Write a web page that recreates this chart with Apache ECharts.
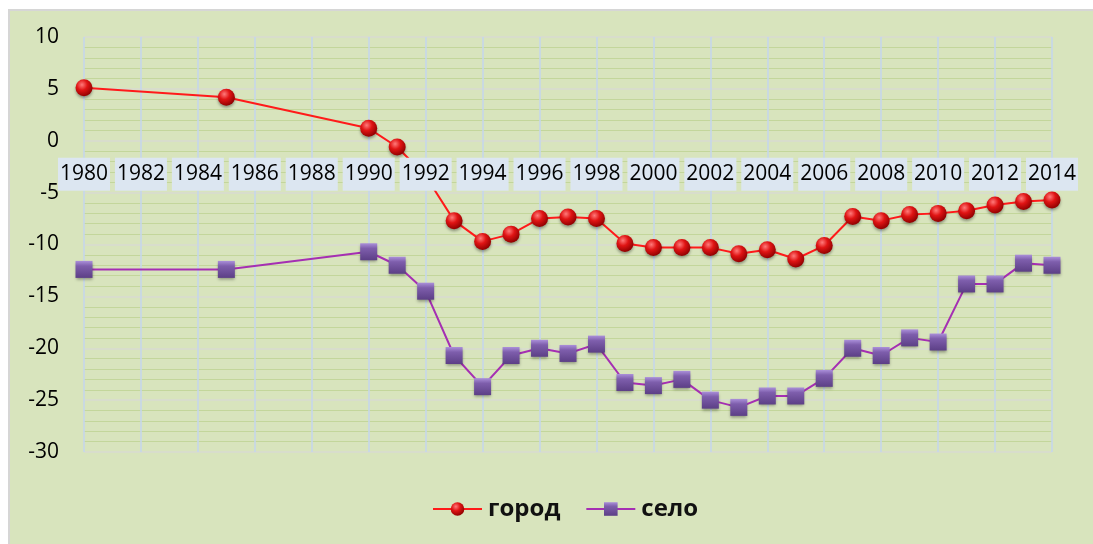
<!DOCTYPE html>
<html>
<head>
<meta charset="utf-8">
<script src="https://cdn.jsdelivr.net/npm/echarts@6/dist/echarts.min.js"></script>
<style>
  html, body { margin: 0; padding: 0; background: #ffffff; }
  #chart { width: 1093px; height: 544px; }
</style>
</head>
<body>
<div id="chart"></div>
<script>
// ---- data ----
const years = [1980, 1985, 1990, 1991, 1992, 1993, 1994, 1995, 1996, 1997, 1998, 1999, 2000,
               2001, 2002, 2003, 2004, 2005, 2006, 2007, 2008, 2009, 2010, 2011, 2012, 2013, 2014];
const gorod = [5.1, 4.2, 1.2, -0.6, -3.4, -7.7, -9.7, -9.0, -7.5, -7.35, -7.5, -9.9, -10.3,
               -10.3, -10.3, -10.9, -10.5, -11.4, -10.1, -7.3, -7.7, -7.1, -7.0, -6.75, -6.2, -5.85, -5.7];
const selo  = [-12.4, -12.4, -10.7, -12.0, -14.5, -20.7, -23.7, -20.7, -20.0, -20.5, -19.6, -23.3, -23.6,
               -23.0, -25.0, -25.7, -24.6, -24.6, -22.9, -20.0, -20.7, -19.0, -19.4, -13.8, -13.8, -11.8, -12.0];
const seriesNames = ['город', 'село'];
const xMin = 1980, xMax = 2014, xStep = 2;
const yMin = -30, yMax = 10, yStep = 5;

const FONT = '"Open Sans", "DejaVu Sans", sans-serif';

const chart = echarts.init(document.getElementById('chart'), null, { renderer: 'canvas' });

// grid geometry
const gridTop = 37, gridBottom = 92, chartH = 544;
const plotH = chartH - gridTop - gridBottom;
const zeroOffset = -((chartH - gridBottom) - (gridTop + plotH * (yMax - 0) / (yMax - yMin)));

const option = {
  backgroundColor: '#ffffff',
  animation: false,
  graphic: [{
    type: 'rect',
    z: -100,
    silent: true,
    shape: { x: 9, y: 10, width: 1100, height: 560 },
    style: { fill: '#d8e4bd', stroke: '#d6d6d6', lineWidth: 2 }
  }],
  grid: { left: 84, right: 41, top: gridTop, bottom: gridBottom, containLabel: false },
  legend: {
    left: 427,
    top: 492,
    itemWidth: 49,
    itemHeight: 17,
    itemGap: 25,
    textStyle: { fontFamily: FONT, fontSize: 24, fontWeight: 'bold', color: '#111111', padding: [0, 0, 0, 1] },
    data: seriesNames
  },
  xAxis: [{
    type: 'value',
    min: xMin, max: xMax, interval: xStep,
    position: 'bottom',
    axisLine: { show: false, onZero: false },
    axisTick: { show: false },
    axisLabel: { show: false },
    splitLine: { show: true, lineStyle: { color: '#c4d6ee', width: 1.5 } },
    z: 0
  }, {
    type: 'value',
    min: xMin, max: xMax, interval: xStep,
    position: 'bottom',
    offset: zeroOffset,
    axisLine: { show: false, onZero: false },
    axisTick: { show: false },
    splitLine: { show: false },
    axisLabel: {
      show: true,
      margin: 17,
      formatter: function (v) { return String(v); },
      fontFamily: FONT, fontSize: 21, color: '#000000',
      backgroundColor: '#dce6f1',
      padding: [4, 2, 4, 2],
      lineHeight: 25
    },
    z: 10
  }],
  yAxis: {
    type: 'value',
    min: yMin, max: yMax, interval: yStep,
    axisLine: { show: false },
    axisTick: { show: false },
    axisLabel: { fontFamily: FONT, fontSize: 21, color: '#000000', margin: 25 },
    splitLine: { show: true, lineStyle: { color: '#d9dbd2', width: 1.5 } },
    minorTick: { show: false, splitNumber: 5 },
    minorSplitLine: { show: true, lineStyle: { color: '#c3d69b', width: 1.2 } }
  },
  series: [{
    name: seriesNames[0],
    type: 'line',
    xAxisIndex: 0,
    data: years.map((y, i) => [y, gorod[i]]),
    symbol: 'circle',
    symbolSize: 17,
    lineStyle: { color: '#ff1a1a', width: 2 },
    itemStyle: {
      color: new echarts.graphic.RadialGradient(0.38, 0.32, 0.7, [
        { offset: 0, color: '#ff7a7a' },
        { offset: 0.45, color: '#e01414' },
        { offset: 1, color: '#8f0000' }
      ]),
      shadowBlur: 3, shadowColor: 'rgba(0,0,0,0.35)', shadowOffsetY: 2
    },
    z: 3
  }, {
    name: seriesNames[1],
    type: 'line',
    xAxisIndex: 0,
    data: years.map((y, i) => [y, selo[i]]),
    symbol: 'rect',
    symbolSize: 17,
    lineStyle: { color: '#a52fb3', width: 2 },
    itemStyle: {
      color: new echarts.graphic.LinearGradient(0, 0, 0, 1, [
        { offset: 0, color: '#ab90da' },
        { offset: 0.3, color: '#7e5eac' },
        { offset: 1, color: '#5c3f86' }
      ]),
      shadowBlur: 3, shadowColor: 'rgba(0,0,0,0.35)', shadowOffsetY: 2
    },
    z: 2
  }]
};

chart.setOption(option);
</script>
</body>
</html>
